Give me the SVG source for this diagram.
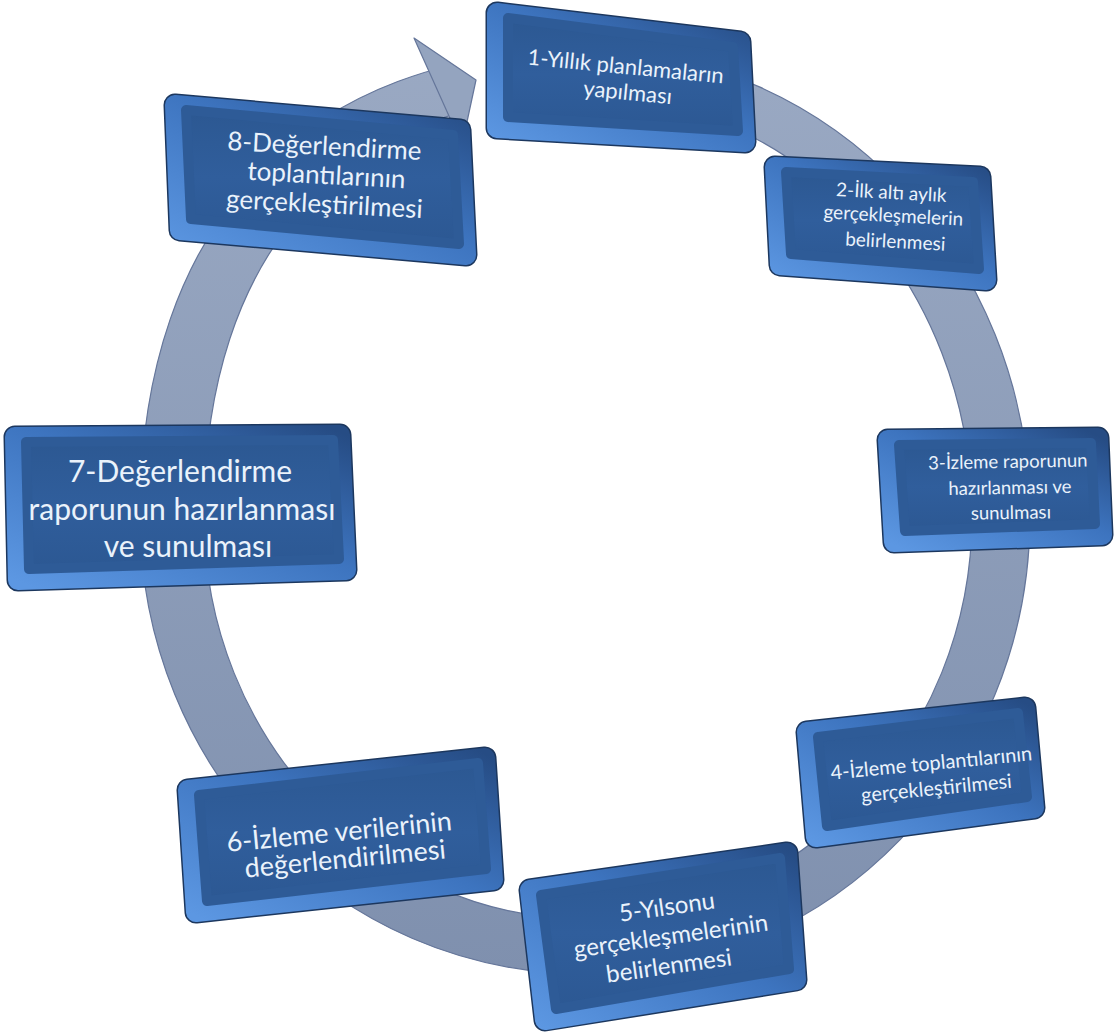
<svg xmlns="http://www.w3.org/2000/svg" width="1114" height="1036" viewBox="0 0 1114 1036">
<defs>
<linearGradient id="ringG" x1="0" y1="0" x2="0" y2="1">
<stop offset="0" stop-color="#9aa9c3"/>
<stop offset="1" stop-color="#7f90ae"/>
</linearGradient>
<linearGradient id="rim" x1="0" y1="1" x2="1" y2="0">
<stop offset="0" stop-color="#5c97e2"/>
<stop offset="0.55" stop-color="#3d74bf"/>
<stop offset="1" stop-color="#264c84"/>
</linearGradient>
<linearGradient id="face" x1="0" y1="0" x2="0" y2="1">
<stop offset="0" stop-color="#2c5892"/>
<stop offset="0.5" stop-color="#305e9c"/>
<stop offset="1" stop-color="#2c5893"/>
</linearGradient>
<clipPath id="gap">
<path clip-rule="evenodd" d="M0 0H1114V1036H0Z M480 200 L415 -10 L560 -10 L560 200Z"/>
</clipPath>
</defs>
<style>
.edge{fill:#1c375e;stroke:#1c375e;stroke-width:23;stroke-linejoin:round}
.rim{fill:url(#rim);stroke:url(#rim);stroke-width:20;stroke-linejoin:round}
.face{fill:url(#face);stroke:#2e5b97;stroke-width:10;stroke-linejoin:round}
.t{fill:#eaf2fb;font-family:Lato,"Open Sans","Liberation Sans",sans-serif;text-anchor:middle}
</style>
<rect width="1114" height="1036" fill="#ffffff"/>
<g id="connectors">
<path clip-path="url(#gap)" fill-rule="evenodd" fill="url(#ringG)" stroke="#65769a" stroke-width="1.2" d="M586 50 C831.2 50 1030 258.6 1030 516 C1030 769 831.2 974 586 974 C337.5 974 140 769 140 516 C140 222.4 305 50 586 50 Z M586 96 C799.2 96 972 284 972 516 C972 738.6 799.2 919 586 919 C375 919 204 738.6 204 516 C204 251.4 345.3 96 586 96 Z"/>
<polygon points="414,38 476,80 462,145" fill="#94a4bf" stroke="#65769a" stroke-width="1.2" stroke-linejoin="round"/>
</g>
<g id="node1">
<polygon class="edge" points="497,13 740,42 745,142 497,128"/>
<polygon class="rim" points="497,13 740,42 745,142 497,128"/>
<polygon class="face" points="508,18 733,47 738,131 508,117"/>
<text class="t" font-size="22" x="625" y="74" transform="rotate(5.5 625 74)">1-Yıllık planlamaların</text>
<text class="t" font-size="22" x="627" y="100" transform="rotate(5.5 627 100)">yapılması</text>
</g>
<g id="node2">
<polygon class="edge" points="775,167 980,177 986,280 780,265"/>
<polygon class="rim" points="775,167 980,177 986,280 780,265"/>
<polygon class="face" points="786,172 973,182 979,269 791,254"/>
<text class="t" font-size="19" x="891" y="199" transform="rotate(3 891 199)">2-İlk altı aylık</text>
<text class="t" font-size="19" x="893" y="222" transform="rotate(3 893 222)">gerçekleşmelerin</text>
<text class="t" font-size="19" x="895" y="248" transform="rotate(3 895 248)">belirlenmesi</text>
</g>
<g id="node3">
<polygon class="edge" points="888,440 1098,438 1102,535 894,542"/>
<polygon class="rim" points="888,440 1098,438 1102,535 894,542"/>
<polygon class="face" points="899,445 1091,443 1095,524 905,531"/>
<text class="t" font-size="18.5" x="1008" y="468" transform="rotate(-1 1008 468)">3-İzleme raporunun</text>
<text class="t" font-size="18.5" x="1010" y="494" transform="rotate(-1 1010 494)">hazırlanması ve</text>
<text class="t" font-size="18.5" x="1011" y="519" transform="rotate(-1 1011 519)">sunulması</text>
</g>
<g id="node4">
<polygon class="edge" points="807,732 1025,708 1034,808 816,837"/>
<polygon class="rim" points="807,732 1025,708 1034,808 816,837"/>
<polygon class="face" points="818,737 1018,713 1027,797 827,826"/>
<text class="t" font-size="20" x="932" y="770" transform="rotate(-5.5 932 770)">4-İzleme toplantılarının</text>
<text class="t" font-size="20" x="937" y="795" transform="rotate(-5.5 937 795)">gerçekleştirilmesi</text>
</g>
<g id="node5">
<polygon class="edge" points="530,890 787,853 796,980 545,1020"/>
<polygon class="rim" points="530,890 787,853 796,980 545,1020"/>
<polygon class="face" points="541,895 780,858 789,969 556,1009"/>
<text class="t" font-size="24" x="668" y="915" transform="rotate(-8 668 915)">5-Yılsonu</text>
<text class="t" font-size="24" x="672" y="944" transform="rotate(-8 672 944)">gerçekleşmelerinin</text>
<text class="t" font-size="24" x="670" y="974" transform="rotate(-8 670 974)">belirlenmesi</text>
</g>
<g id="node6">
<polygon class="edge" points="188,790 485,758 493,880 196,912"/>
<polygon class="rim" points="188,790 485,758 493,880 196,912"/>
<polygon class="face" points="199,795 478,763 486,869 207,901"/>
<text class="t" font-size="27" x="340" y="841" transform="rotate(-5.5 340 841)">6-İzleme verilerinin</text>
<text class="t" font-size="27" x="346" y="868" transform="rotate(-5.5 346 868)">değerlendirilmesi</text>
</g>
<g id="node7">
<polygon class="edge" points="15,437 340,435 346,570 18,580"/>
<polygon class="rim" points="15,437 340,435 346,570 18,580"/>
<polygon class="face" points="26,442 333,440 339,559 29,569"/>
<text class="t" font-size="30" x="180" y="482">7-Değerlendirme</text>
<text class="t" font-size="30" x="182" y="520">raporunun hazırlanması</text>
<text class="t" font-size="30" x="188" y="557">ve sunulması</text>
</g>
<g id="node8">
<polygon class="edge" points="175,105 460,130 466,255 180,230"/>
<polygon class="rim" points="175,105 460,130 466,255 180,230"/>
<polygon class="face" points="186,110 453,135 459,244 191,219"/>
<text class="t" font-size="26" x="324" y="155" transform="rotate(3 324 155)">8-Değerlendirme</text>
<text class="t" font-size="26" x="326" y="184" transform="rotate(3 326 184)">toplantılarının</text>
<text class="t" font-size="26" x="324" y="213" transform="rotate(3 324 213)">gerçekleştirilmesi</text>
</g>
</svg>
